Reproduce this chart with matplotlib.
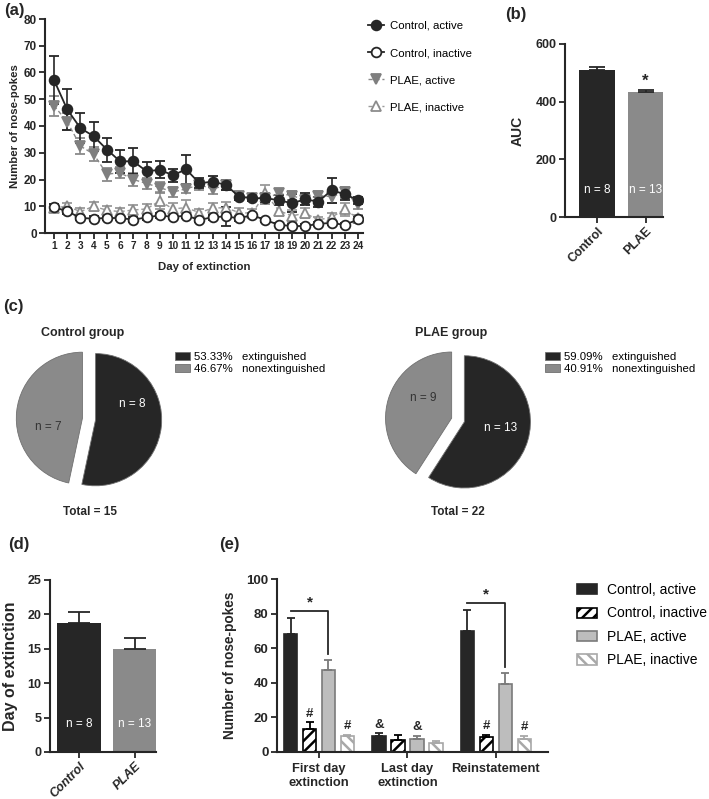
import numpy as np
import matplotlib
matplotlib.use('Agg')
import matplotlib.pyplot as plt
from matplotlib.lines import Line2D

plt.rcParams['font.family'] = ['Liberation Sans', 'DejaVu Sans']
plt.rcParams['hatch.linewidth'] = 1.8

# ---- (a) nose-pokes across extinction days ----
days = list(range(1, 25))
ctrl_active = [57.2, 46.2, 39.2, 36.2, 31.2, 26.8, 26.8, 23.1, 23.6, 21.6, 23.8, 18.6,
               19.2, 18.0, 13.6, 13.0, 13.0, 12.3, 11.1, 12.6, 11.7, 16.0, 14.5, 12.3]
ctrl_active_err = [9.0, 7.8, 5.5, 5.4, 4.5, 4.4, 4.8, 3.4, 3.2, 2.4, 5.4, 1.8,
                   2.1, 2.0, 1.4, 1.0, 1.5, 2.0, 3.4, 2.2, 1.8, 4.7, 2.2, 1.3]
ctrl_inactive = [9.6, 8.2, 5.6, 5.4, 5.6, 5.6, 5.0, 5.8, 6.6, 6.0, 6.5, 4.9,
                 5.9, 6.2, 5.5, 6.7, 4.8, 3.1, 2.6, 2.6, 3.4, 3.8, 3.0, 5.1]
ctrl_inactive_err = [1.2, 1.0, 0.8, 0.8, 0.8, 0.8, 0.8, 0.8, 1.0, 0.9, 0.9, 0.8,
                     0.9, 3.5, 0.9, 0.8, 0.8, 0.6, 0.6, 0.6, 0.7, 0.8, 0.6, 1.4]
plae_active = [47.6, 41.6, 32.5, 29.5, 22.0, 22.5, 20.0, 18.5, 17.0, 15.3, 16.5, 18.0,
               16.5, 17.8, 14.0, 13.0, 13.0, 14.8, 14.0, 12.3, 14.0, 13.6, 15.2, 10.8]
plae_active_err = [3.8, 3.2, 3.0, 2.6, 2.4, 2.0, 2.4, 2.0, 2.2, 2.0, 1.6, 1.8,
                   2.0, 1.8, 1.5, 1.2, 2.0, 1.6, 1.8, 2.0, 1.6, 2.2, 2.0, 1.8]
plae_inactive = [9.4, 10.0, 8.0, 10.0, 8.5, 8.0, 8.6, 9.0, 12.0, 9.0, 9.5, 7.6,
                 9.3, 9.5, 7.6, 7.4, 14.8, 8.4, 6.4, 7.4, 4.9, 5.9, 8.8, 5.5]
plae_inactive_err = [1.5, 1.4, 1.4, 1.6, 1.5, 1.5, 2.0, 2.0, 3.2, 2.4, 3.0, 1.5,
                     1.8, 2.2, 1.6, 1.4, 3.0, 2.2, 2.2, 1.8, 1.0, 1.5, 2.6, 1.4]

# ---- (b) AUC ----
groups = ['Control', 'PLAE']
group_n = ['n = 8', 'n = 13']
auc = [511, 432]
auc_err = [8, 7]

# ---- (c) extinction outcome pies ----
pie_titles = ['Control group', 'PLAE group']
pie_counts = [[8, 7], [13, 9]]      # extinguished, nonextinguished
pie_kinds = ['extinguished', 'nonextinguished']

# ---- (d) day of extinction ----
ext_day = [18.8, 14.9]
ext_day_err = [1.6, 1.6]

# ---- (e) nose-pokes by phase ----
phases = ['First day\nextinction', 'Last day\nextinction', 'Reinstatement']
e_labels = ['Control, active', 'Control, inactive', 'PLAE, active', 'PLAE, inactive']
e_vals = [[68.1, 9.4, 69.9], [13.5, 6.7, 8.5], [47.5, 7.7, 39.3], [9.0, 5.0, 7.5]]
e_errs = [[9.6, 1.4, 12.1], [3.6, 2.9, 1.5], [5.4, 1.7, 6.4], [1.0, 1.3, 2.0]]
e_marks = [['', '&', ''], ['#', '', '#'], ['', '&', ''], ['#', '', '#']]

DARK = '#262626'
MID = '#8a8a8a'
LIGHT = '#bdbdbd'

W, H = 709, 799
fig = plt.figure(figsize=(W / 100, H / 100), dpi=100)


def box(l, t, r, b):
    return [l / W, 1 - b / H, (r - l) / W, (b - t) / H]


def ftext(x, y, s, **kw):
    fig.text(x / W, 1 - y / H, s, **kw)


def style(ax, size=9):
    for s in ['top', 'right']:
        ax.spines[s].set_visible(False)
    for s in ['left', 'bottom']:
        ax.spines[s].set_linewidth(1.5)
        ax.spines[s].set_color(DARK)
    ax.tick_params(direction='out', length=4, width=1.3, color=DARK, labelsize=size, pad=2)
    plt.setp(ax.get_xticklabels() + ax.get_yticklabels(), fontweight='bold', color=DARK)


# panel letters
for lab, x, y in [('(a)', 4, 10), ('(b)', 505, 14), ('(c)', 3, 306), ('(d)', 8, 545), ('(e)', 219, 545)]:
    ftext(x, y, lab, fontsize=12, fontweight='bold', va='center', color=DARK)

# ---------------- (a) ----------------
ax = fig.add_axes(box(45, 19, 363, 233))
a_series = [
    (plae_inactive, plae_inactive_err, 'PLAE, inactive',
     dict(marker='^', color='#9a9a9a', mfc='white', mec='#8c8c8c', ls=(0, (3, 2)), lw=1.0)),
    (ctrl_inactive, ctrl_inactive_err, 'Control, inactive',
     dict(marker='o', color=DARK, mfc='white', mec=DARK, ls='-', lw=1.3)),
    (plae_active, plae_active_err, 'PLAE, active',
     dict(marker='v', color='#8a8a8a', mfc='#7f7f7f', mec='#7f7f7f', ls=(0, (3, 2)), lw=1.0)),
    (ctrl_active, ctrl_active_err, 'Control, active',
     dict(marker='o', color=DARK, mfc=DARK, mec=DARK, ls='-', lw=1.3)),
]
handles = {}
for vals, err, lab, kw in a_series:
    ax.errorbar(days, vals, yerr=err, ms=7, mew=1.3, capsize=3.5, elinewidth=1.2,
                capthick=1.2, ecolor=kw['color'], **kw)
    handles[lab] = Line2D([], [], ms=7, mew=1.3, **kw)
ax.set_xlim(0.32, 24.38)
ax.set_ylim(0, 80)
ax.set_xticks(days)
ax.set_yticks(range(0, 81, 10))
style(ax, 8.5)
ax.tick_params(axis='x', labelsize=7.3)
plt.setp(ax.get_xticklabels(), fontweight='bold')
ax.set_ylabel('Number of nose-pokes', fontsize=8.2, fontweight='bold', color=DARK)
ax.yaxis.set_label_coords(-0.078, 0.5)
ax.set_xlabel('Day of extinction', fontsize=8.2, fontweight='bold', color=DARK)
ax.xaxis.set_label_coords(0.5, -0.135)
order = ['Control, active', 'Control, inactive', 'PLAE, active', 'PLAE, inactive']
fig.legend([handles[k] for k in order], order, loc='upper left',
           bbox_to_anchor=(368 / W, 1 - 21 / H), bbox_transform=fig.transFigure,
           frameon=False, fontsize=8.2, handlelength=1.4, handletextpad=0.5,
           labelspacing=1.5, borderpad=0, borderaxespad=0)

# ---------------- (b) ----------------
ax = fig.add_axes(box(565, 44, 663, 217))
xb = np.arange(len(groups))
ax.bar(xb, auc, width=0.74, color=[DARK, MID], yerr=[np.zeros(2), auc_err],
       error_kw=dict(ecolor=DARK, elinewidth=1.3, capsize=5.5, capthick=1.3))
ax.set_xlim(-0.66, 1.36)
ax.set_ylim(0, 600)
ax.set_yticks([0, 200, 400, 600])
ax.set_xticks(xb)
ax.set_xticklabels(groups, rotation=45, ha='right', rotation_mode='anchor')
style(ax, 9)
for i, n in enumerate(group_n):
    ax.text(xb[i], 93, n, color='white', fontsize=8.5, ha='center', va='center')
ax.text(xb[1], 470, '*', fontsize=12, fontweight='bold', ha='center', va='center', color=DARK)
ax.set_ylabel('AUC', fontsize=10, fontweight='bold', color=DARK)
ax.yaxis.set_label_coords(-0.41, 0.5)

# ---------------- (c) ----------------
pie_boxes = [box(9, 339, 169, 499), box(378, 340, 538, 500)]
title_x = [83, 451]
legend_x = [175, 545]
n_pos = [[(0.65, 0.23), (-0.62, -0.12)], [(0.64, -0.12), (-0.52, 0.33)]]
for k in range(2):
    ax = fig.add_axes(pie_boxes[k])
    counts = pie_counts[k]
    wedges, _ = ax.pie(counts, explode=[0.1, 0.1], startangle=90, counterclock=False,
                       colors=[DARK, MID], radius=1,
                       wedgeprops=dict(edgecolor='#707070', linewidth=0.6))
    ax.set_xlim(-1.21, 1.21)
    ax.set_ylim(-1.21, 1.21)
    ax.set_aspect('equal')
    ax.axis('off')
    for j, c in enumerate(counts):
        ax.text(*n_pos[k][j], f'n = {c}', fontsize=8.5, ha='center', va='center',
                color='white' if j == 0 else '#333333')
    total = sum(counts)
    labels = [f'{100 * c / total:.2f}%   {kind}' for c, kind in zip(counts, pie_kinds)]
    ax.legend(wedges, labels, loc='upper left',
              bbox_to_anchor=(legend_x[k] / W, 1 - 352 / H), bbox_transform=fig.transFigure,
              frameon=False, fontsize=8.2, handlelength=1.3, handleheight=0.7,
              handletextpad=0.4, labelspacing=0.15, borderpad=0, borderaxespad=0)
    ftext(title_x[k], 333, pie_titles[k], fontsize=9, fontweight='bold', ha='center',
          va='center', color=DARK)
    ftext(title_x[k] + 7, 512, f'Total = {total}', fontsize=8.5, fontweight='bold',
          ha='center', va='center', color=DARK)

# ---------------- (d) ----------------
ax = fig.add_axes(box(50, 580, 156, 752))
ax.bar(xb, ext_day, width=0.78, color=[DARK, MID], yerr=[np.zeros(2), ext_day_err],
       error_kw=dict(ecolor=DARK, elinewidth=1.3, capsize=8, capthick=1.3))
ax.set_xlim(-0.52, 1.375)
ax.set_ylim(0, 25)
ax.set_yticks(range(0, 26, 5))
ax.set_xticks(xb)
ax.set_xticklabels(groups, rotation=45, ha='right', rotation_mode='anchor')
style(ax, 9)
plt.setp(ax.get_xticklabels(), fontstyle='italic')
for i, n in enumerate(group_n):
    ax.text(xb[i], 4.1, n, color='white', fontsize=8.5, ha='center', va='center')
ax.set_ylabel('Day of extinction', fontsize=11.5, fontweight='bold', color=DARK)
ax.yaxis.set_label_coords(-0.30, 0.5)

# ---------------- (e) ----------------
ax = fig.add_axes(box(277, 579, 548, 752))
xe = np.arange(len(phases))
pitch, width = 0.2147, 0.1525
e_style = [dict(color=DARK, edgecolor=DARK),
           dict(color='white', edgecolor='black', hatch='///'),
           dict(color=LIGHT, edgecolor='#7a7a7a'),
           dict(color='white', edgecolor='#a8a8a8', hatch='\\\\\\')]
bars = []
for s in range(4):
    xs = xe + (s - 1.5) * pitch
    b = ax.bar(xs, e_vals[s], width=width, linewidth=1.2,
               yerr=[np.zeros(3), e_errs[s]],
               error_kw=dict(ecolor=e_style[s]['edgecolor'] if s != 0 else DARK,
                             elinewidth=1.3, capsize=2.8, capthick=1.3),
               **e_style[s])
    bars.append(b)
    for g in range(3):
        if e_marks[s][g]:
            ax.text(xs[g], e_vals[s][g] + e_errs[s][g] + 5, e_marks[s][g], fontsize=9.5,
                    fontweight='bold', ha='center', va='center', color=DARK)
# significance brackets between control-active and PLAE-active
for g in [0, 2]:
    x0 = xe[g] - 1.5 * pitch
    x1 = xe[g] + 0.5 * pitch
    ytop = e_vals[0][g] + e_errs[0][g] + 4
    yend = e_vals[2][g] + e_errs[2][g] + 3.5
    ax.plot([x0, x1, x1], [ytop, ytop, yend], color=DARK, lw=1.3)
    ax.text((x0 + x1) / 2, ytop + 5, '*', fontsize=11, fontweight='bold', ha='center',
            va='center', color=DARK)
ax.set_xlim(-0.475, 2.59)
ax.set_ylim(0, 100)
ax.set_yticks(range(0, 101, 20))
ax.set_xticks(xe)
ax.set_xticklabels(phases, linespacing=1.25)
style(ax, 9.5)
ax.tick_params(axis='x', labelsize=9.3, pad=4)
plt.setp(ax.get_xticklabels(), fontweight='bold')
ax.set_ylabel('Number of nose-pokes', fontsize=9.8, fontweight='bold', color=DARK)
ax.yaxis.set_label_coords(-0.148, 0.5)
fig.legend(bars, e_labels, loc='upper left', bbox_to_anchor=(577 / W, 1 - 583 / H),
           bbox_transform=fig.transFigure, frameon=False, fontsize=10,
           handlelength=1.45, handleheight=0.75, handletextpad=0.7, labelspacing=0.68,
           borderpad=0, borderaxespad=0)

fig.savefig('out.png', dpi=100)
